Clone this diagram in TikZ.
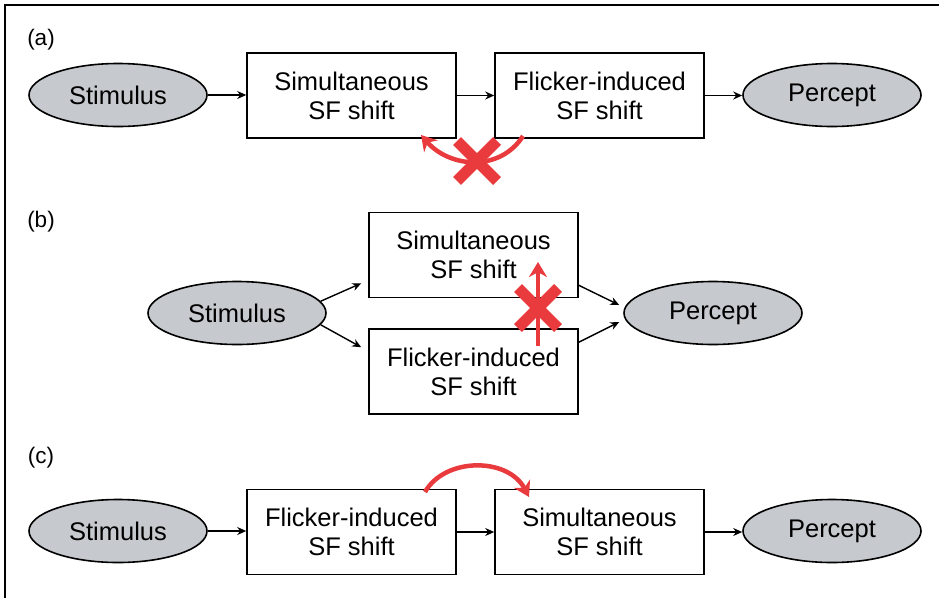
\documentclass[tikz,border=0pt]{standalone}
\usepackage{fontspec}
\setmainfont{Liberation Sans}
\usetikzlibrary{shapes.geometric,arrows.meta}
\definecolor{stimgray}{RGB}{198,201,205}
\definecolor{fxred}{RGB}{233,58,62}
\begin{document}
\begin{tikzpicture}
	[x=1pt,y=-1pt,
	stage/.style={draw,line width=1.6pt,minimum width=209pt,
		minimum height=85pt,align=center,inner sep=0pt,
		font=\fontsize{25.5}{29}\selectfont},
	endpoint/.style={ellipse,draw,line width=1.6pt,fill=stimgray,
		minimum width=178pt,minimum height=63pt,inner sep=0pt,
		font=\fontsize{25.5}{29}\selectfont},
	panel/.style={font=\fontsize{22.5}{26}\selectfont},
	flow/.style={line width=1.4pt,-{Stealth[length=9pt,width=8pt]}},
	influence/.style={draw=fxred,line width=4.5pt,
		-{Stealth[length=15pt,width=18pt]}},
	blocked/.style={draw=fxred,line width=11pt}]
	\useasboundingbox (0,0) rectangle (939,598);
	\draw[line width=2pt] (5,598) -- (5,5) -- (939,5);
	% (a) serial, no influence
	\node[panel] (labA) at (41,40) {(a)};
	\node[endpoint] (stimA) at (118,95) {Stimulus};
	\node[stage] (simA) at (351.5,95.5) {Simultaneous\\SF shift};
	\node[stage] (flickA) at (599.5,95.5) {Flicker-induced\\SF shift};
	\node[endpoint] (perA) at (832,95) {Percept};
	\draw[flow] (stimA.east) -- (stimA.east -| simA.west);
	\draw[flow] (simA.east) -- (flickA.west);
	\draw[flow] (flickA.east) -- (flickA.east -| perA.west);
	\coordinate (arcA0) at (523,136);
	\coordinate (arcA1) at (421,135);
	\draw[influence] (arcA0) .. controls (500,172) and (450,168) .. (arcA1);
	\draw[blocked] (457,141) -- (497,181);
	\draw[blocked] (497,141) -- (457,181);
	% (b) parallel
	\node[panel] (labB) at (41,222) {(b)};
	\node[endpoint] (stimB) at (237,313) {Stimulus};
	\node[stage] (simB) at (473.5,255) {Simultaneous\\SF shift};
	\node[stage] (flickB) at (473.5,371.5) {Flicker-induced\\SF shift};
	\node[endpoint] (perB) at (713,313) {Percept};
	\draw[flow] (stimB.8) -- ([shift={(-7,-15)}]simB.south west);
	\draw[flow] (stimB.-8) -- ([shift={(-7,19)}]flickB.north west);
	\draw[flow] ([yshift=13pt]simB.south east) -- ([shift={(-4,-8)}]perB.west);
	\draw[flow] ([yshift=-14pt]flickB.north east) -- ([shift={(-4,9)}]perB.west);
	\coordinate (upB0) at (538,346);
	\coordinate (upB1) at (538,262);
	\draw[influence] (upB0) -- (upB1);
	\draw[blocked] (518,288) -- (558,328);
	\draw[blocked] (558,288) -- (518,328);
	% (c) serial, flicker first
	\node[panel] (labC) at (41,458) {(c)};
	\node[endpoint] (stimC) at (118,531) {Stimulus};
	\node[stage] (flickC) at (351.5,532) {Flicker-induced\\SF shift};
	\node[stage] (simC) at (599.5,532) {Simultaneous\\SF shift};
	\node[endpoint] (perC) at (832,531) {Percept};
	\draw[flow] (stimC.east) -- (stimC.east -| flickC.west);
	\draw[flow] (flickC.east) -- (simC.west);
	\draw[flow] (simC.east) -- (simC.east -| perC.west);
	\coordinate (arcC0) at (425,492);
	\coordinate (arcC1) at (529,497);
	\draw[influence] (arcC0) .. controls (445,457) and (508,457) .. (arcC1);
\end{tikzpicture}
\end{document}
